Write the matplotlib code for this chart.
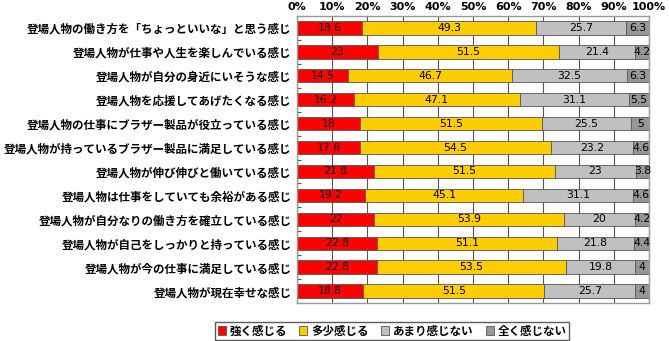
import matplotlib.pyplot as plt
import numpy as np

plt.rcParams['font.family'] = ['Noto Sans CJK JP', 'DejaVu Sans']

categories = [
    "登場人物の働き方を「ちょっといいな」と思う感じ",
    "登場人物が仕事や人生を楽しんでいる感じ",
    "登場人物が自分の身近にいそうな感じ",
    "登場人物を応援してあげたくなる感じ",
    "登場人物の仕事にブラザー製品が役立っている感じ",
    "登場人物が持っているブラザー製品に満足している感じ",
    "登場人物が伸び伸びと働いている感じ",
    "登場人物は仕事をしていても余裕がある感じ",
    "登場人物が自分なりの働き方を確立している感じ",
    "登場人物が自己をしっかりと持っている感じ",
    "登場人物が今の仕事に満足している感じ",
    "登場人物が現在幸せな感じ",
]
strong = [18.6, 23, 14.5, 16.2, 18, 17.8, 21.8, 19.2, 22, 22.8, 22.8, 18.8]
somewhat = [49.3, 51.5, 46.7, 47.1, 51.5, 54.5, 51.5, 45.1, 53.9, 51.1, 53.5, 51.5]
not_much = [25.7, 21.4, 32.5, 31.1, 25.5, 23.2, 23, 31.1, 20, 21.8, 19.8, 25.7]
not_at_all = [6.3, 4.2, 6.3, 5.5, 5, 4.6, 3.8, 4.6, 4.2, 4.4, 4, 4]

series = [
    ("強く感じる", strong, "#ff0000"),
    ("多少感じる", somewhat, "#ffcc00"),
    ("あまり感じない", not_much, "#c0c0c0"),
    ("全く感じない", not_at_all, "#969696"),
]
xticks = np.arange(0, 101, 10)

fig = plt.figure(figsize=(6.69, 3.41), dpi=100)
ax = fig.add_axes([297 / 669, 1 - 303 / 341, (649 - 297) / 669, (303 - 16) / 341])

y = np.arange(len(categories))
left = np.zeros(len(categories))
for name, vals, color in series:
    vals = np.array(vals, dtype=float)
    ax.barh(y, vals, left=left, height=0.56, color=color,
            edgecolor="#555555", linewidth=0.6, label=name, zorder=2)
    # value labels centred on each segment
    for i, v in enumerate(vals):
        ax.text(left[i] + v / 2, y[i], f"{v:g}", ha="center", va="center",
                fontsize=7.8, color="black", zorder=3, clip_on=False,
                family="DejaVu Sans")
    left += vals

ax.set_xlim(0, 100)
ax.set_ylim(len(categories) - 0.5, -0.5)
ax.set_xticks(xticks)
ax.set_xticklabels([f"{t}%" for t in xticks], fontsize=8, fontweight="bold",
                   family="DejaVu Sans")
ax.xaxis.tick_top()
ax.tick_params(axis="x", length=0, pad=3)
ax.grid(axis="x", color="#555555", linewidth=0.8, zorder=1)
ax.set_axisbelow(True)

ax.set_yticks(y)
ax.set_yticklabels(categories, fontsize=8.3, fontweight="bold")
ax.set_yticks(np.arange(0.5, len(categories) - 1, 1), minor=True)
ax.tick_params(axis="y", which="major", length=0, pad=4)
ax.tick_params(axis="y", which="minor", direction="in", length=3,
               color="#555555", width=0.8)

for s in ax.spines.values():
    s.set_color("#999999")
    s.set_linewidth(1.0)

leg = fig.legend(loc="center", bbox_to_anchor=(392 / 669, 1 - 331 / 341),
                 ncol=4, frameon=True, fancybox=False, edgecolor="#333333",
                 handlelength=0.7, handleheight=0.7, handletextpad=0.3,
                 columnspacing=1.1, borderpad=0.25,
                 prop={"size": 8.3, "weight": "bold",
                       "family": ["Noto Sans CJK JP", "DejaVu Sans"]})
leg.get_frame().set_linewidth(1.0)

fig.savefig("out.png", dpi=100)
